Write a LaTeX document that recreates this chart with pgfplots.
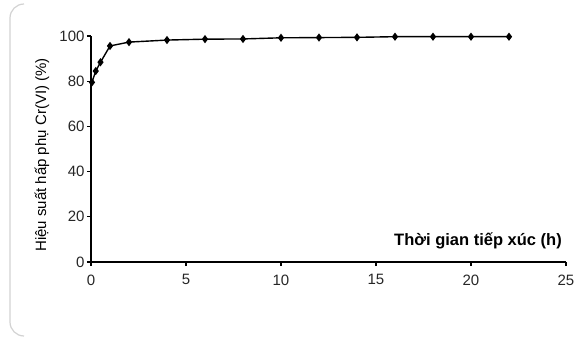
\documentclass[border=0pt]{standalone}
\usepackage{fontspec}
\setmainfont{Liberation Sans}
\usepackage{pgfplots}
\pgfplotsset{compat=1.18}
\begin{document}
\begin{tikzpicture}[x=1pt,y=1pt]
\useasboundingbox (0,0) rectangle (579,338);
% light frame on the left
\draw[gray!35, line width=1.2pt] (24,334) arc[start angle=90,end angle=180,radius=14] -- (10,16) arc[start angle=180,end angle=270,radius=14];
\begin{axis}[
  at={(91pt,76pt)}, anchor=south west,
  scale only axis, width=475pt, height=226pt,
  xmin=0, xmax=25, ymin=0, ymax=100,
  axis lines=left, axis line style={-, line width=1.2pt},
  xtick={0,5,...,25}, ytick={0,20,...,100},
  tick align=outside, major tick length=4pt,
  tick style={line width=1.2pt, black},
  /pgf/number format/assume math mode=true,
  tick label style={font=\fontsize{15}{17}\selectfont, text=black!85},
  xticklabel style={yshift=-5pt},
  yticklabel style={xshift=1pt},
  clip=false,
]
\addplot[black, line width=1.4pt, mark=diamond*, mark size=3pt] coordinates {
 (0.05,79.5) (0.25,84.5) (0.5,88.4) (1,95.6) (2,97.3) (4,98.2) (6,98.6) (8,98.7)
 (10,99.2) (12,99.3) (14,99.4) (16,99.7) (18,99.7) (20,99.7) (22,99.7)
};
\end{axis}
\node[font=\bfseries\fontsize{16.5}{18}\selectfont] at (478,97) {Thời gian tiếp xúc (h)};
\node[rotate=90, font=\fontsize{15}{17}\selectfont] at (42,183) {Hiệu suất hấp phụ Cr(VI) (\%)};
\end{tikzpicture}
\end{document}
